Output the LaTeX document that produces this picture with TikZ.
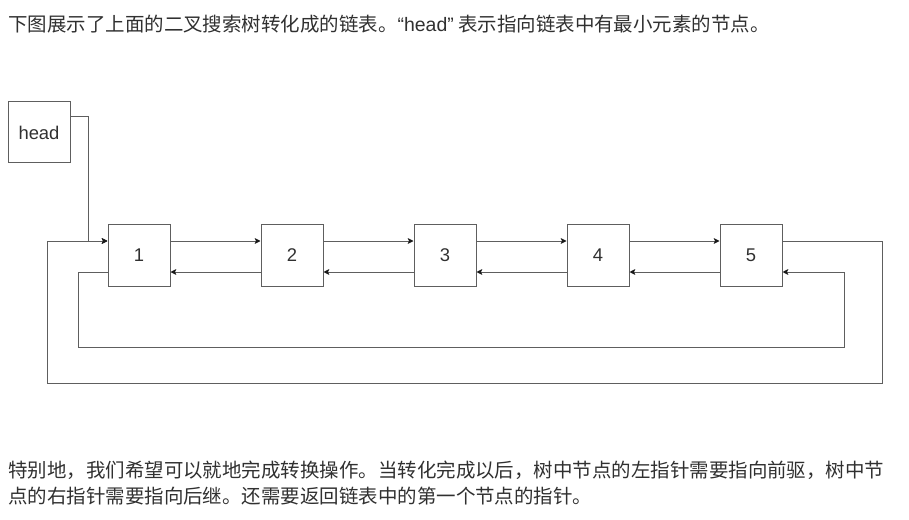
\documentclass[tikz,border=0pt]{standalone}
\usepackage{fontspec}
\setmainfont{Liberation Sans}
\newfontfamily\cjk{Noto Sans CJK SC}
\usetikzlibrary{arrows.meta}
\definecolor{ln}{HTML}{5E5E5E}
\definecolor{tx}{HTML}{303030}
\definecolor{tip}{HTML}{1A1A1A}
\begin{document}
\begin{tikzpicture}[x=0.75pt,y=-0.75pt,
  box/.style={draw=ln, line width=0.75pt, minimum width=46.5pt, minimum height=45.75pt, inner sep=0pt, font=\fontsize{13.8}{16}\selectfont, text=tx},
  link/.style={draw=ln, line width=0.75pt},
  arr/.style={link, -{Stealth[length=4.3pt,width=4.3pt,inset=0.9pt,color=tip]}},
  para/.style={anchor=base west, inner sep=0pt, text=tx, font=\cjk\fontsize{14.6}{20}\selectfont}]
\useasboundingbox (0,0) rectangle (909,520);
\node[para] (t1) at (8,31.5) {下图展示了上面的二叉搜索树转化成的链表。{\rmfamily “head”} 表示指向链表中有最小元素的节点。};
\node[box] (head) at (39,132.5) {head};
\foreach \i/\x in {1/139,2/292,3/445,4/598,5/751}
  \node[box] (n\i) at (\x,255.5) {\i};
\coordinate (fy) at (0,241);
\coordinate (by) at (0,272);
\coordinate (hy) at (0,117);
\coordinate (hx) at (88,0);
\coordinate (oR) at (882,383);
\coordinate (oL) at (47,383);
\coordinate (iL) at (78,347);
\coordinate (iR) at (844,347);
\foreach \a/\b in {1/2,2/3,3/4,4/5} {
  \draw[arr] (n\a.east |- fy) -- (n\b.west |- fy);
  \draw[arr] (n\b.west |- by) -- (n\a.east |- by);
}
\draw[arr] (head.east |- hy) -| (hx |- fy) -- (n1.west |- fy);
\draw[arr] (n5.east |- fy) -| (oR) -| (oL |- fy) -- (n1.west |- fy);
\draw[arr] (n1.west |- by) -| (iL) -| (iR |- by) -- (n5.east |- by);
\node[para] (t2) at (8,477.6) {特别地，我们希望可以就地完成转换操作。当转化完成以后，树中节点的左指针需要指向前驱，树中节};
\node[para] (t3) at (8,503.8) {点的右指针需要指向后继。还需要返回链表中的第一个节点的指针。};
\end{tikzpicture}
\end{document}
